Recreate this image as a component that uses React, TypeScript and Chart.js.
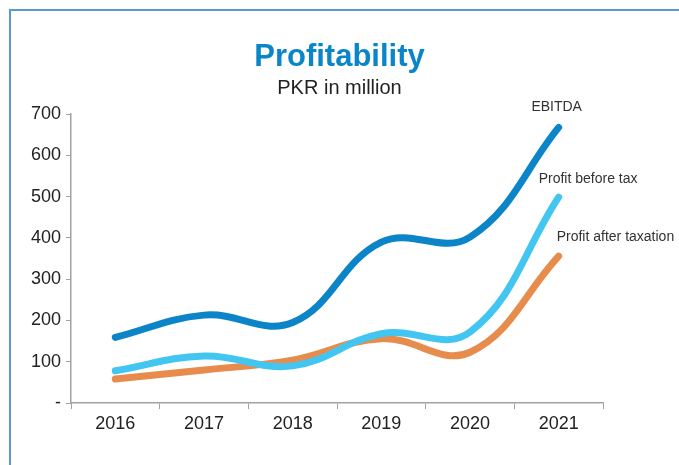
import React, { useEffect, useRef } from "react";
import { Chart, registerables } from "chart.js";

Chart.register(...registerables);

const categories = ["2016", "2017", "2018", "2019", "2020", "2021"];
const ebitda = [159, 213, 195, 390, 402, 668];
const profitBeforeTax = [78, 114, 90, 168, 172, 499];
const profitAfterTax = [58, 80, 104, 156, 123, 356];
const seriesNames = ["EBITDA", "Profit before tax", "Profit after taxation"];
const yTicks = [0, 100, 200, 300, 400, 500, 600, 700];

const FONT = "'Liberation Sans', Arial, Helvetica, sans-serif";

const endLabels = {
  id: "endLabels",
  afterDatasetsDraw(chart: any) {
    const ctx = chart.ctx;
    const offsets = [
      { dx: -2, dy: -20, align: "center" },
      { dx: -20, dy: -18, align: "left" },
      { dx: -2, dy: -19, align: "left" },
    ];
    ctx.save();
    ctx.font = `14px ${FONT}`;
    ctx.fillStyle = "#333333";
    ctx.textBaseline = "middle";
    chart.data.datasets.forEach((ds: any, i: number) => {
      const meta = chart.getDatasetMeta(i);
      const pt = meta.data[meta.data.length - 1];
      if (!pt) return;
      const o = offsets[i];
      ctx.textAlign = o.align;
      ctx.fillText(ds.label, pt.x + o.dx, pt.y + o.dy);
    });
    ctx.restore();
  },
};

export default function App() {
  const ref = useRef<HTMLCanvasElement | null>(null);

  useEffect(() => {
    if (!ref.current) return;
    const axisColor = "#9ea3a8";
    const chart = new Chart(ref.current, {
      type: "line",
      data: {
        labels: categories,
        datasets: [
          { label: seriesNames[0], data: ebitda, borderColor: "#0b85c7" },
          { label: seriesNames[1], data: profitBeforeTax, borderColor: "#42c6f1" },
          { label: seriesNames[2], data: profitAfterTax, borderColor: "#e78c4c" },
        ].map((d) => ({
          ...d,
          borderWidth: 7,
          borderCapStyle: "round" as const,
          borderJoinStyle: "round" as const,
          pointRadius: 0,
          tension: 0.4,
          fill: false,
          clip: false as any,
          yAxisID: "y",
        })),
      },
      options: {
        responsive: false,
        animation: false,
        layout: { padding: { left: 0, right: 0, top: 0, bottom: 0 } },
        plugins: {
          legend: { display: false },
          tooltip: { enabled: false },
          title: {
            display: true,
            text: "Profitability",
            color: "#0a86c8",
            font: { family: FONT, size: 31, weight: "bold", lineHeight: 1.2 },
            padding: { top: 39, bottom: 0 },
          },
          subtitle: {
            display: true,
            text: "PKR in million",
            color: "#222222",
            font: { family: FONT, size: 20, lineHeight: 1.2 },
            padding: { top: 0, bottom: 14 },
          },
        },
        scales: {
          x: {
            offset: true,
            grid: {
              display: true,
              drawOnChartArea: false,
              drawTicks: true,
              tickLength: 6,
              color: axisColor,
              offset: true,
            },
            border: { display: true, color: axisColor, width: 1.5 },
            ticks: {
              color: "#222222",
              font: { family: FONT, size: 18 },
              padding: 4,
              maxRotation: 0,
            },
            afterFit(scale: any) {
              scale.height = 62;
            },
          },
          y: {
            min: 0,
            max: 700,
            afterBuildTicks(scale: any) {
              scale.ticks = yTicks.map((v) => ({ value: v }));
            },
            grid: {
              display: true,
              drawOnChartArea: false,
              drawTicks: true,
              tickLength: 5,
              color: axisColor,
            },
            border: { display: true, color: axisColor, width: 1.5 },
            ticks: {
              color: "#222222",
              font: { family: FONT, size: 18 },
              padding: 5,
              callback: (v: any) => (Number(v) === 0 ? "-" : String(v)),
            },
            afterFit(scale: any) {
              scale.width = 71;
            },
          },
          yRight: {
            position: "right",
            display: true,
            min: 0,
            max: 700,
            grid: { display: false, drawTicks: false },
            border: { display: false },
            ticks: { display: false },
            afterFit(scale: any) {
              scale.width = 76;
            },
          },
        },
      },
      plugins: [endLabels],
    });
    return () => chart.destroy();
  }, []);

  return (
    <div
      style={{
        position: "absolute",
        left: 0,
        top: 0,
        width: 679,
        height: 465,
        background: "#ffffff",
      }}
    >
      <div
        style={{
          position: "absolute",
          left: 9,
          top: 9,
          right: 0,
          bottom: 0,
          borderTop: "2px solid #5b9bc6",
          borderLeft: "2px solid #5b9bc6",
        }}
      />
      <canvas
        ref={ref}
        width={679}
        height={465}
        style={{ position: "absolute", left: 0, top: 0, width: 679, height: 465 }}
      />
    </div>
  );
}
